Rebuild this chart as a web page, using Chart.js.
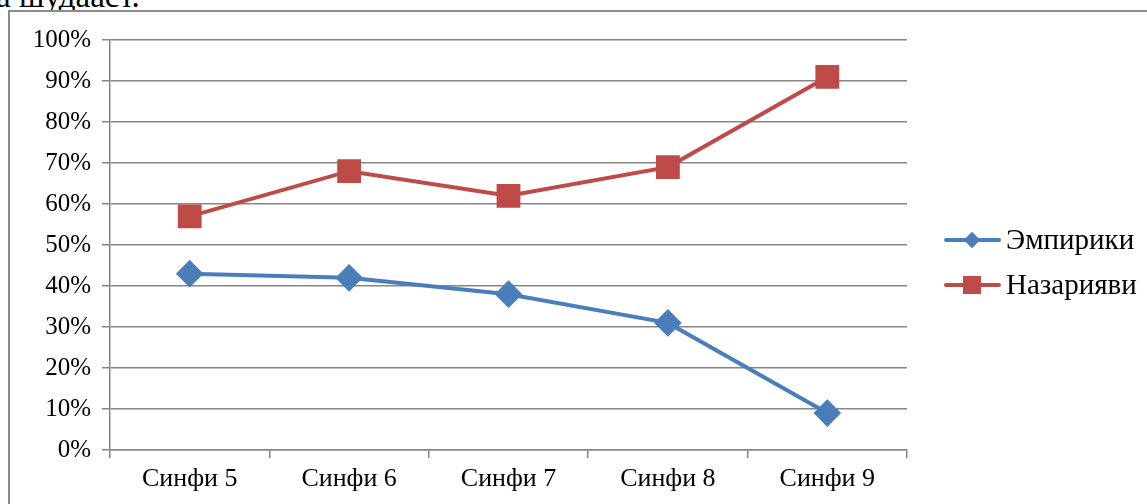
<!DOCTYPE html>
<html>
<head>
<meta charset="utf-8">
<script src="https://cdn.jsdelivr.net/npm/chart.js@4.4.1/dist/chart.umd.min.js"></script>
<style>
  html, body { margin: 0; padding: 0; background: #fff; overflow: hidden; }
  #page { position: relative; width: 1147px; height: 504px; }
  #caption { position: absolute; left: -4px; top: -22px; font: 33px "Liberation Serif", serif; color: #000; white-space: nowrap; }
  #frame { position: absolute; left: 8px; top: 10px; width: 1200px; height: 600px; border: 2px solid #8c8c8c; box-sizing: border-box; background: #fff; }
  #wrap { position: absolute; left: 0; top: 0; width: 1147px; height: 504px; }
</style>
</head>
<body>
<div id="page">
  <div id="caption">а шудааст.</div>
  <div id="frame"></div>
  <div id="wrap"><canvas id="lineChart"></canvas></div>
</div>
<script>
// chart data
const classes = ['Синфи 5', 'Синфи 6', 'Синфи 7', 'Синфи 8', 'Синфи 9'];
const empirical = [43, 42, 38, 31, 9];
const theoretical = [57, 68, 62, 69, 91];
const percentTicks = [0, 10, 20, 30, 40, 50, 60, 70, 80, 90, 100];

const serif = '"Liberation Serif", "Times New Roman", serif';

// legend drawn as line + marker, like the spreadsheet original
const sideLegend = {
  id: 'sideLegend',
  afterDraw(chart) {
    const ctx = chart.ctx;
    const rows = [240, 285];
    chart.data.datasets.forEach((ds, i) => {
      const y = rows[i];
      ctx.save();
      ctx.strokeStyle = ds.borderColor;
      ctx.lineWidth = 4;
      ctx.lineCap = 'round';
      ctx.beginPath();
      ctx.moveTo(946, y);
      ctx.lineTo(999, y);
      ctx.stroke();
      ctx.fillStyle = ds.pointBackgroundColor;
      if (ds.pointStyle === 'rectRot') {
        Chart.helpers.drawPoint(ctx, { pointStyle: 'rectRot', radius: 8, borderWidth: 0 }, 972, y);
        ctx.fill();
      } else {
        ctx.fillRect(963, y - 9, 18, 18);
      }
      ctx.fillStyle = '#000';
      ctx.font = '29px ' + serif;
      ctx.textBaseline = 'middle';
      ctx.fillText(ds.label, 1006, y + 1);
      ctx.restore();
    });
  }
};

const ctx = document.getElementById('lineChart').getContext('2d');
new Chart(ctx, {
  type: 'line',
  data: {
    labels: classes,
    datasets: [{
      label: 'Эмпирики',
      data: empirical,
      borderColor: '#4a7ebb',
      backgroundColor: '#4a7ebb',
      pointBackgroundColor: '#4a7ebb',
      pointBorderColor: '#4a7ebb',
      pointStyle: 'rectRot',
      pointRadius: 11,
      borderWidth: 4,
      tension: 0
    }, {
      label: 'Назарияви',
      data: theoretical,
      borderColor: '#be4b48',
      backgroundColor: '#be4b48',
      pointBackgroundColor: '#be4b48',
      pointBorderColor: '#be4b48',
      pointStyle: 'rect',
      pointRadius: 14,
      borderWidth: 4,
      tension: 0
    }]
  },
  options: {
    responsive: true,
    maintainAspectRatio: false,
    animation: false,
    layout: { padding: { left: 0, right: 240, top: 40, bottom: 0 } },
    plugins: {
      legend: { display: false },
      tooltip: { enabled: false }
    },
    scales: {
      x: {
        offset: true,
        afterFit: scale => { scale.height = 54; },
        grid: { offset: true, drawOnChartArea: false, drawTicks: true, tickLength: 8, color: '#868686', lineWidth: 1.5 },
        border: { color: '#868686', width: 1.5 },
        ticks: { color: '#000', font: { family: serif, size: 26 }, padding: 6, maxRotation: 0 }
      },
      y: {
        min: 0,
        max: 100,
        afterFit: scale => { scale.width = 110; },
        afterBuildTicks: scale => { scale.ticks = percentTicks.map(v => ({ value: v })); },
        grid: { color: '#868686', lineWidth: 1.5, tickLength: 8 },
        border: { color: '#868686', width: 1.5 },
        ticks: { color: '#000', font: { family: serif, size: 25 }, padding: 11, callback: v => v + '%' }
      }
    }
  },
  plugins: [sideLegend]
});
</script>
</body>
</html>
